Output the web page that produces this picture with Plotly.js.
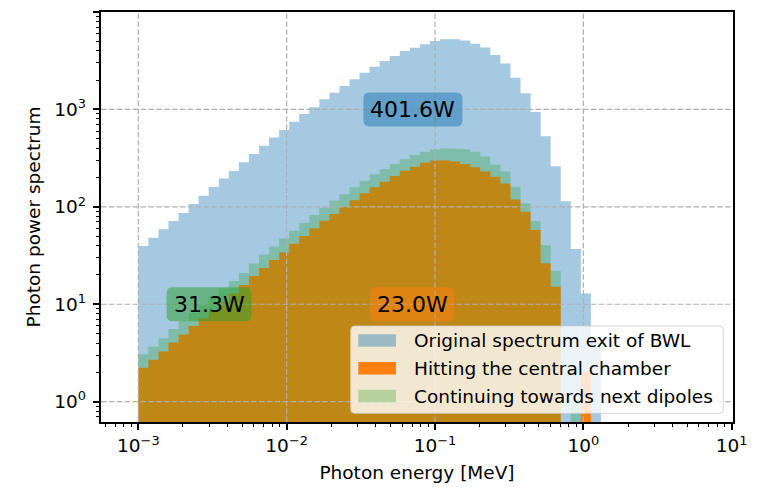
<!DOCTYPE html>
<html>
<head>
<meta charset="utf-8">
<script src="https://cdn.plot.ly/plotly-3.0.1.min.js"></script>
<style>
  html, body { margin: 0; padding: 0; background: #ffffff; }
  #chart { width: 767px; height: 487px; }
</style>
</head>
<body>
<div id="chart"></div>
<script>
// Photon energy binning: logarithmic bins, 59 per 4 decades from 1 keV; the first 46 carry power.
const nBins = 46;
const binEdges = Array.from({ length: nBins + 1 }, (_, k) => Math.pow(10, -3 + 4 * k / 59));

// Photon power spectrum per bin
const originalBWL = [
  39.6, 48.2, 58.8, 71.6, 86.5, 107, 130, 160, 195, 234,
  287, 349, 423, 515, 615, 748, 897, 1051, 1270, 1485,
  1740, 2037, 2381, 2743, 3139, 3533, 3978, 4299, 4658, 5037,
  5243, 5250, 5084, 4735, 4320, 3615, 2953, 2110, 1463, 940,
  530, 261, 114, 36.9, 12.9, 4.0
];
const centralChamber = [
  2.23, 2.69, 3.28, 4.05, 4.90, 5.98, 7.18, 8.63, 10.5, 12.9,
  15.8, 19.5, 23.6, 28.5, 34.0, 41.8, 50.2, 60.2, 72.1, 84.5,
  100, 117, 138, 159, 181, 207, 235, 258, 284, 299,
  300, 292, 275, 255, 230, 204, 174, 119, 89.1, 57.9,
  26.3, 15.1, 0, 0, 2.0, 0
];
const nextDipoles = [
  3.07, 3.69, 4.47, 5.57, 6.73, 8.13, 9.83, 12.0, 14.5, 17.3,
  20.9, 26.2, 32.4, 39.2, 47.3, 56.9, 68.7, 82.5, 98, 116,
  135, 159, 185, 216, 243, 275, 308, 341, 368, 388,
  397, 397, 390, 368, 329, 272, 230, 161, 109, 71.6,
  40.6, 22.1, 0, 1.0, 0, 0
];

const seriesNames = [
  'Original spectrum exit of BWL',
  'Hitting the central chamber',
  'Continuing towards next dipoles'
];

// Integrated power labels
const powerLabels = ['401.6W', '23.0W', '31.3W'];
const powerLabelX = [0.071, 0.070, 0.0030];
const powerLabelY = [1000, 10, 10];

// Axis ticks
const xTickVals = [1e-3, 1e-2, 1e-1, 1, 10];
const xTickText = ['10<sup>−3</sup>', '10<sup>−2</sup>', '10<sup>−1</sup>', '10<sup>0</sup>', '10<sup>1</sup>'];
const yTickVals = [1, 10, 100, 1000, 10000];
const yTickText = ['10<sup>0</sup>', '10<sup>1</sup>', '10<sup>2</sup>', '10<sup>3</sup>', '10<sup>4</sup>'];

// ---- styling ----
const FONT = 'DejaVu Sans';
const TXT = 18.5;
const fills = ['rgba(31,119,180,0.4)', 'rgba(255,127,14,1)', 'rgba(44,160,44,0.3)'];
const boxFills = ['rgba(31,119,180,0.5)', 'rgba(255,127,14,0.5)', 'rgba(44,160,44,0.5)'];
const boxSizes = [[99, 34], [84, 34], [85, 34]];
const xRange = [-3.2515, 1.0088];
const yRange = [-0.2084, 4.0];
const M = { l: 101, r: 34, t: 12, b: 65 };
const W = 767, H = 487;

function minorTicks(fromExp, toExp, lo, hi) {
  const out = [];
  for (let e = fromExp; e <= toExp; e++) {
    for (let m = 2; m <= 9; m++) {
      const v = m * Math.pow(10, e);
      if (Math.log10(v) > lo && Math.log10(v) < hi) out.push(v);
    }
  }
  return out;
}

// Filled step outline of a histogram
function stepOutline(values, floor) {
  const xs = [binEdges[0]], ys = [floor];
  values.forEach((v, k) => {
    const h = v > 0 ? v : floor;
    xs.push(binEdges[k], binEdges[k + 1]);
    ys.push(h, h);
  });
  xs.push(binEdges[values.length]);
  ys.push(floor);
  return { xs, ys };
}

function roundedRect(x0, y0, x1, y1, r) {
  return `M${x0 + r},${y0} L${x1 - r},${y0} Q${x1},${y0} ${x1},${y0 + r} ` +
         `L${x1},${y1 - r} Q${x1},${y1} ${x1 - r},${y1} L${x0 + r},${y1} ` +
         `Q${x0},${y1} ${x0},${y1 - r} L${x0},${y0 + r} Q${x0},${y0} ${x0 + r},${y0} Z`;
}

const series = [originalBWL, centralChamber, nextDipoles];
const traces = series.map((vals, i) => {
  const o = stepOutline(vals, 1e-2);
  return {
    type: 'scatter', mode: 'lines', name: seriesNames[i],
    x: o.xs, y: o.ys, fill: 'toself', fillcolor: fills[i],
    line: { width: 0, color: fills[i] }, hoverinfo: 'skip', showlegend: false
  };
});

const shapes = [];
const gridLine = { color: '#b0b0b0', width: 1.2, dash: '5.5px,2.4px' };
xTickVals.forEach(v => {
  const L = Math.log10(v);
  if (L > xRange[0] + 0.01 && L < xRange[1] - 0.01)
    shapes.push({ type: 'line', layer: 'above', xref: 'x', yref: 'paper', x0: v, x1: v, y0: 0, y1: 1, line: gridLine });
});
yTickVals.forEach(v => {
  const L = Math.log10(v);
  if (L > yRange[0] + 0.01 && L < yRange[1] - 0.01)
    shapes.push({ type: 'line', layer: 'above', xref: 'paper', yref: 'y', x0: 0, x1: 1, y0: v, y1: v, line: gridLine });
});

const annotations = [];
// Power label boxes
powerLabels.forEach((txt, i) => {
  const [bw, bh] = boxSizes[i];
  shapes.push({
    type: 'path', layer: 'above', xref: 'x', yref: 'y',
    xsizemode: 'pixel', ysizemode: 'pixel',
    xanchor: powerLabelX[i], yanchor: powerLabelY[i],
    path: roundedRect(-bw / 2, -bh / 2, bw / 2, bh / 2, 6),
    fillcolor: boxFills[i], line: { width: 0 }
  });
  annotations.push({
    x: Math.log10(powerLabelX[i]), y: Math.log10(powerLabelY[i]), xref: 'x', yref: 'y',
    text: txt, showarrow: false, xanchor: 'center', yanchor: 'middle',
    font: { family: FONT, size: 22, color: '#000000' }
  });
});

// Legend (canvas pixel layout, anchored to the plot's top-left corner)
const dx = px => px - M.l;
const dy = py => M.t - py;
shapes.push({
  type: 'path', layer: 'above', xref: 'paper', yref: 'paper',
  xsizemode: 'pixel', ysizemode: 'pixel', xanchor: 0, yanchor: 1,
  path: roundedRect(dx(350.7), dy(413.3), dx(723.3), dy(326), 4),
  fillcolor: 'rgba(255,255,255,0.8)', line: { color: 'rgba(204,204,204,0.8)', width: 1 }
});
const rowY = [340.5, 368.3, 396.0];
seriesNames.forEach((name, i) => {
  shapes.push({
    type: 'rect', layer: 'above', xref: 'paper', yref: 'paper',
    xsizemode: 'pixel', ysizemode: 'pixel', xanchor: 0, yanchor: 1,
    x0: dx(358.3), x1: dx(396), y0: dy(rowY[i] - 6.3), y1: dy(rowY[i] + 6.3),
    fillcolor: fills[i], line: { width: 0 }
  });
  annotations.push({
    xref: 'paper', yref: 'paper',
    x: (412 - M.l) / (W - M.l - M.r), y: 1 - (rowY[i] - M.t) / (H - M.t - M.b),
    text: name, showarrow: false, xanchor: 'left', yanchor: 'middle',
    font: { family: FONT, size: TXT, color: '#000000' }
  });
});

const axisCommon = {
  type: 'log', showgrid: false, zeroline: false,
  showline: true, linecolor: '#000000', linewidth: 1.5, mirror: true,
  ticks: 'outside', ticklen: 6.5, tickwidth: 1.5, tickcolor: '#000000',
  tickfont: { family: FONT, size: TXT, color: '#000000' },
  tickmode: 'array', automargin: false
};

const layout = {
  width: W, height: H,
  margin: { l: M.l, r: M.r, t: M.t, b: M.b, pad: 0 },
  paper_bgcolor: '#ffffff', plot_bgcolor: '#ffffff',
  font: { family: FONT, size: TXT, color: '#000000' },
  showlegend: false,
  xaxis: Object.assign({}, axisCommon, {
    range: xRange, tickvals: xTickVals, ticktext: xTickText,
    title: { text: 'Photon energy [MeV]', standoff: 11, font: { family: FONT, size: TXT, color: '#000000' } },
    minor: { tickmode: 'array', tickvals: minorTicks(-4, 0, xRange[0], xRange[1]), ticks: 'outside', ticklen: 3.7, tickwidth: 1.1, tickcolor: '#000000', showgrid: false }
  }),
  yaxis: Object.assign({}, axisCommon, {
    range: yRange, tickvals: yTickVals, ticktext: yTickText, ticklabelstandoff: 3,
    title: { text: 'Photon power spectrum', standoff: 9, font: { family: FONT, size: TXT, color: '#000000' } },
    minor: { tickmode: 'array', tickvals: minorTicks(-1, 3, yRange[0], yRange[1]), ticks: 'outside', ticklen: 3.7, tickwidth: 1.1, tickcolor: '#000000', showgrid: false }
  }),
  shapes: shapes,
  annotations: annotations
};

Plotly.newPlot('chart', traces, layout, { displayModeBar: false });
</script>
</body>
</html>
